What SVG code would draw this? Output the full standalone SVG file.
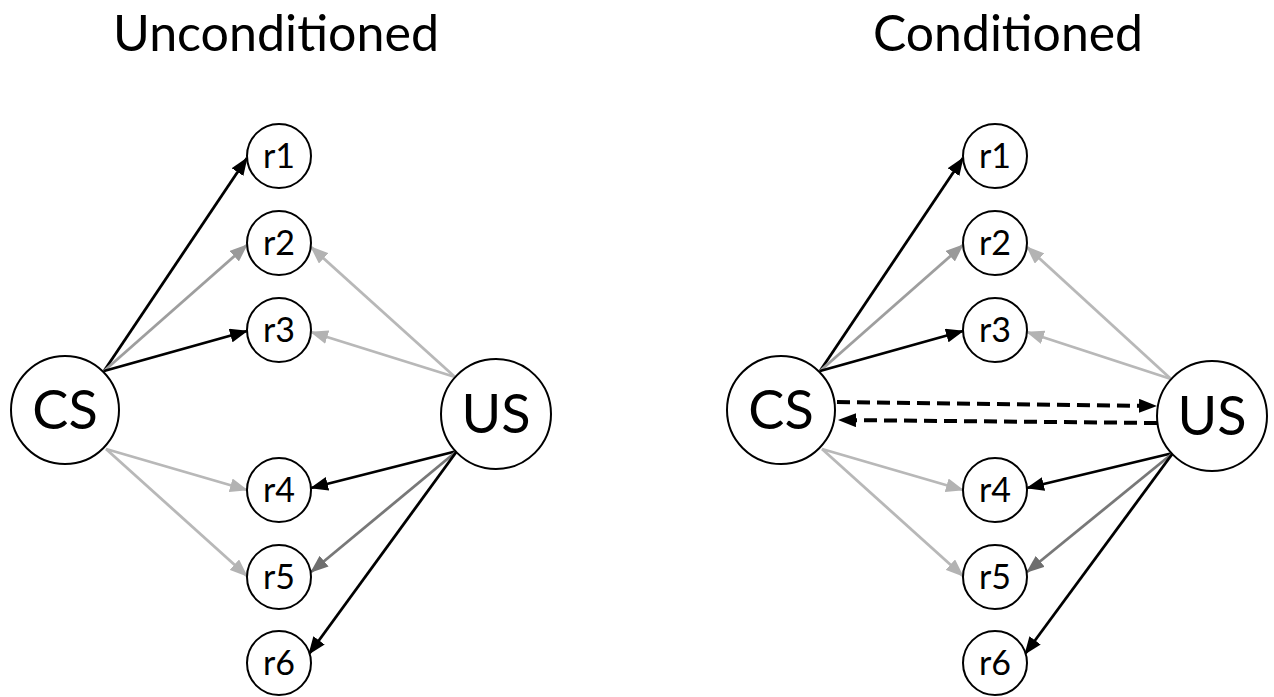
<svg xmlns="http://www.w3.org/2000/svg" width="1274" height="697" viewBox="0 0 1274 697">
<style>
  .title { font-family: Lato, "Liberation Sans", sans-serif; font-size: 51px; fill: #000; text-anchor: middle; }
  .big circle { fill: #fff; stroke: #000; stroke-width: 2; }
  .small circle { fill: #fff; stroke: #000; stroke-width: 2; }
  .big text { font-family: Lato, "Liberation Sans", sans-serif; font-size: 54px; fill: #000; text-anchor: middle; }
  .small text { font-family: Lato, "Liberation Sans", sans-serif; font-size: 34px; fill: #000; text-anchor: middle; }
  .e { fill: none; stroke-width: 2.8; }
  .k { stroke: #000; marker-end: url(#ak); }
  .m { stroke: #9e9e9e; marker-end: url(#am); }
  .l { stroke: #b8b8b8; marker-end: url(#al); }
  .d { stroke: #787878; marker-end: url(#ad); }
  .dash { fill: none; stroke: #000; stroke-width: 4; stroke-dasharray: 13 7; marker-end: url(#akd); }
</style>
<defs>
  <marker id="ak" markerUnits="userSpaceOnUse" markerWidth="18" markerHeight="14" refX="17" refY="7" orient="auto"><path d="M0,0 L18,7 L0,14 z" fill="#000"/></marker>
  <marker id="am" markerUnits="userSpaceOnUse" markerWidth="18" markerHeight="14" refX="17" refY="7" orient="auto"><path d="M0,0 L18,7 L0,14 z" fill="#9a9a9a"/></marker>
  <marker id="al" markerUnits="userSpaceOnUse" markerWidth="18" markerHeight="14" refX="17" refY="7" orient="auto"><path d="M0,0 L18,7 L0,14 z" fill="#b3b3b3"/></marker>
  <marker id="ad" markerUnits="userSpaceOnUse" markerWidth="18" markerHeight="14" refX="17" refY="7" orient="auto"><path d="M0,0 L18,7 L0,14 z" fill="#6e6e6e"/></marker>
  <marker id="akd" markerUnits="userSpaceOnUse" markerWidth="18" markerHeight="14" refX="17" refY="7" orient="auto"><path d="M0,0 L18,7 L0,14 z" fill="#000"/></marker>
</defs>

<text class="title" x="276" y="51" textLength="326" lengthAdjust="spacingAndGlyphs">Unconditioned</text>
<text class="title" x="1008" y="51" textLength="270" lengthAdjust="spacingAndGlyphs">Conditioned</text>

<g id="connectors">
  <!-- left -->
  <line class="e k" x1="104" y1="371" x2="247" y2="158"/>
  <line class="e m" x1="104" y1="371" x2="247" y2="245"/>
  <line class="e k" x1="104" y1="371" x2="247" y2="331"/>
  <line class="e l" x1="106" y1="449" x2="247" y2="490"/>
  <line class="e l" x1="106" y1="449" x2="247" y2="576"/>
  <line class="e l" x1="455" y1="377" x2="311" y2="247"/>
  <line class="e l" x1="455" y1="377" x2="311" y2="332"/>
  <line class="e k" x1="457" y1="451" x2="311" y2="488"/>
  <line class="e d" x1="457" y1="451" x2="311" y2="572"/>
  <line class="e k" x1="457" y1="451" x2="309" y2="654"/>
  <!-- right -->
  <line class="e k" x1="820" y1="371" x2="963" y2="158"/>
  <line class="e m" x1="820" y1="371" x2="963" y2="245"/>
  <line class="e k" x1="820" y1="371" x2="963" y2="331"/>
  <line class="e l" x1="822" y1="449" x2="963" y2="490"/>
  <line class="e l" x1="822" y1="449" x2="963" y2="576"/>
  <line class="e l" x1="1171" y1="379" x2="1027" y2="247"/>
  <line class="e l" x1="1171" y1="379" x2="1027" y2="332"/>
  <line class="e k" x1="1173" y1="453" x2="1027" y2="488"/>
  <line class="e d" x1="1173" y1="453" x2="1027" y2="572"/>
  <line class="e k" x1="1173" y1="453" x2="1025" y2="654"/>
  <line class="dash" x1="837" y1="402" x2="1156" y2="406"/>
  <line class="dash" x1="1157" y1="423" x2="839" y2="420"/>
</g>

<g id="L_CS" class="big"><circle cx="65" cy="410" r="54"/><text x="65" y="429">CS</text></g>
<g id="L_US" class="big"><circle cx="496" cy="414" r="55"/><text x="496" y="433">US</text></g>
<g id="L_r1" class="small"><circle cx="279" cy="156" r="32"/><text x="279" y="168">r1</text></g>
<g id="L_r2" class="small"><circle cx="279" cy="243" r="32"/><text x="279" y="255">r2</text></g>
<g id="L_r3" class="small"><circle cx="279" cy="330" r="32"/><text x="279" y="342">r3</text></g>
<g id="L_r4" class="small"><circle cx="279" cy="490" r="32"/><text x="279" y="502">r4</text></g>
<g id="L_r5" class="small"><circle cx="279" cy="577" r="32"/><text x="279" y="589">r5</text></g>
<g id="L_r6" class="small"><circle cx="279" cy="663" r="32"/><text x="279" y="675">r6</text></g>

<g id="R_CS" class="big"><circle cx="781" cy="410" r="54"/><text x="781" y="429">CS</text></g>
<g id="R_US" class="big"><circle cx="1212" cy="416" r="55"/><text x="1212" y="435">US</text></g>
<g id="R_r1" class="small"><circle cx="995" cy="156" r="32"/><text x="995" y="168">r1</text></g>
<g id="R_r2" class="small"><circle cx="995" cy="243" r="32"/><text x="995" y="255">r2</text></g>
<g id="R_r3" class="small"><circle cx="995" cy="330" r="32"/><text x="995" y="342">r3</text></g>
<g id="R_r4" class="small"><circle cx="995" cy="490" r="32"/><text x="995" y="502">r4</text></g>
<g id="R_r5" class="small"><circle cx="995" cy="577" r="32"/><text x="995" y="589">r5</text></g>
<g id="R_r6" class="small"><circle cx="995" cy="663" r="32"/><text x="995" y="675">r6</text></g>
</svg>
